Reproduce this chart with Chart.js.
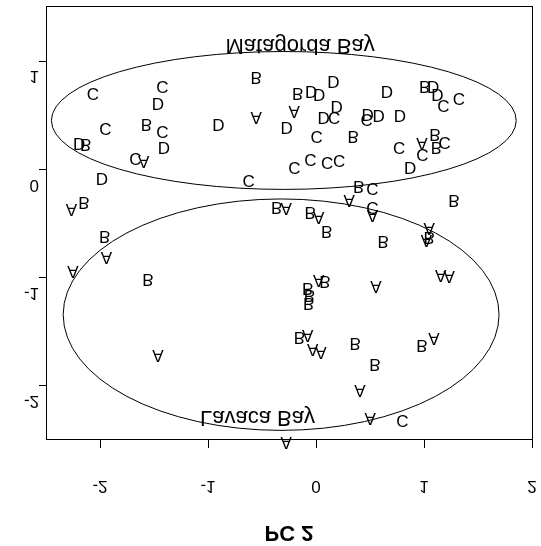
<!DOCTYPE html>
<html><head><meta charset="utf-8">
<script src="https://cdn.jsdelivr.net/npm/chart.js@4"></script>
<style>html,body{margin:0;padding:0;background:#fff;}canvas{display:block;transform:scaleY(-1);}</style>
</head><body>
<canvas id="c" width="541" height="546"></canvas>
<script>
// ---- data ----
const xTickValues = [-2, -1, 0, 1, 2];
const xTickLabels = ['-2', '-1', '0', '1', '2'];
const yTickValues = [-2, -1, 0, 1];
const yTickLabels = ['-2', '-1', '0', '1'];
const xAxisTitle = 'PC 2';

const groupLetters = ['A', 'B', 'C', 'D'];

const aX = [-0.555,-0.201,-1.596,0.980,-2.264,-1.941,-2.250,-0.277,0.024,0.308,0.523,1.047,1.022,1.155,1.232,0.024,0.555,-1.464,-0.078,-0.031,0.046,1.093,0.407,0.502,-0.277];
const aY = [0.477,0.529,0.071,0.231,-0.379,-0.815,-0.948,-0.363,-0.446,-0.293,-0.431,-0.554,-0.662,-0.985,-0.991,-1.031,-1.092,-1.729,-1.539,-1.669,-1.693,-1.570,-2.047,-2.308,-2.524];

const bX = [-0.555,-0.170,1.007,-1.571,-2.132,0.345,1.100,1.115,0.394,-2.148,-1.957,-1.556,-0.364,-0.055,0.098,1.278,0.622,1.047,0.083,-0.078,-0.062,-0.068,-0.154,0.363,0.980,0.545];
const bY = [0.847,0.699,0.764,0.406,0.224,0.302,0.317,0.194,-0.160,-0.314,-0.621,-1.025,-0.354,-0.400,-0.579,-0.293,-0.668,-0.631,-1.041,-1.108,-1.175,-1.247,-1.563,-1.616,-1.637,-1.807];

const cX = [-2.065,-1.423,1.179,1.324,-1.950,-1.423,0.169,0.468,-1.673,0.006,0.770,1.192,0.985,-0.201,-0.053,0.102,0.215,-0.623,0.523,0.523,0.800];
const cY = [0.693,0.764,0.584,0.653,0.376,0.348,0.477,0.455,0.099,0.302,0.200,0.240,0.132,0.016,0.086,0.062,0.077,-0.108,-0.185,-0.360,-2.324];

const dX = [-1.464,-0.046,0.030,0.160,0.656,1.084,1.124,-0.903,-0.272,0.070,0.190,0.477,0.579,0.776,-2.194,-1.409,0.872,-1.982];
const dY = [0.607,0.717,0.686,0.810,0.717,0.764,0.686,0.406,0.385,0.477,0.579,0.501,0.492,0.492,0.231,0.194,0.016,-0.092];

const regionNames = ['Matagorda Bay', 'Lavaca Bay'];
const regionCenterX = [-0.298, -0.323];
const regionCenterY = [0.452, -1.342];
const regionRadiusX = [2.152, 2.018];
const regionRadiusY = [0.637, 1.069];
const regionLabelX = [-0.147, -0.542];
const regionLabelY = [1.200, -2.232];

// ---- chart ----
const FONT = '"Liberation Sans", Arial, Helvetica, sans-serif';
const LETTER_SIZE = 17;
const groupsX = [aX, bX, cX, dX];
const groupsY = [aY, bY, cY, dY];

const datasets = groupLetters.map((L, g) => ({
  label: L,
  data: groupsX[g].map((x, i) => ({ x: x, y: groupsY[g][i] })),
  pointRadius: 0,
  pointHoverRadius: 0,
  showLine: false
}));

const overlay = {
  id: 'overlay',
  afterDatasetsDraw(chart) {
    const ctx = chart.ctx, xs = chart.scales.x, ys = chart.scales.y, a = chart.chartArea;
    ctx.save();
    ctx.strokeStyle = '#000';
    ctx.lineWidth = 1;
    ctx.strokeRect(Math.round(a.left) + 0.5, Math.round(a.top) + 0.5,
                   Math.round(a.right - a.left), Math.round(a.bottom - a.top));
    regionNames.forEach((name, k) => {
      const cx = xs.getPixelForValue(regionCenterX[k]);
      const cy = ys.getPixelForValue(regionCenterY[k]);
      const rx = Math.abs(xs.getPixelForValue(regionCenterX[k] + regionRadiusX[k]) - cx);
      const ry = Math.abs(ys.getPixelForValue(regionCenterY[k] + regionRadiusY[k]) - cy);
      ctx.beginPath();
      ctx.ellipse(cx, cy, rx, ry, 0, 0, Math.PI * 2);
      ctx.stroke();
    });
    ctx.fillStyle = '#000';
    ctx.textAlign = 'center';
    ctx.textBaseline = 'alphabetic';
    ctx.font = LETTER_SIZE + 'px ' + FONT;
    chart.data.datasets.forEach((ds, i) => {
      const meta = chart.getDatasetMeta(i);
      meta.data.forEach(el => {
        ctx.fillText(ds.label, el.x, el.y + 0.358 * LETTER_SIZE);
      });
    });
    ctx.font = '22px ' + FONT;
    regionNames.forEach((name, k) => {
      ctx.fillText(name, xs.getPixelForValue(regionLabelX[k]), ys.getPixelForValue(regionLabelY[k]));
    });
    ctx.restore();
  }
};

new Chart(document.getElementById('c'), {
  type: 'scatter',
  data: { datasets: datasets },
  options: {
    responsive: false,
    devicePixelRatio: 1,
    animation: false,
    events: [],
    layout: { padding: { left: 0, right: 9, top: 0, bottom: 7 } },
    plugins: { legend: { display: false }, tooltip: { enabled: false } },
    scales: {
      x: {
        type: 'linear', position: 'top', min: -2.5, max: 2,
        afterBuildTicks: s => { s.ticks = xTickValues.map(v => ({ value: v })); },
        afterFit: s => { s.height = 106; s.paddingLeft = 0; s.paddingRight = 0; s.paddingTop = 0; s.paddingBottom = 0; },
        ticks: {
          color: '#000', font: { size: 17, family: FONT }, padding: 27,
          maxRotation: 0, autoSkip: false,
          callback: (v, i) => xTickLabels[i]
        },
        grid: { drawOnChartArea: false, drawTicks: true, tickLength: 8, color: '#000', tickWidth: 1 },
        border: { display: false },
        title: { display: true, text: xAxisTitle, color: '#000',
                 font: { size: 22, weight: 'bold', family: FONT }, padding: { top: 1, bottom: 0 } }
      },
      y: {
        type: 'linear', reverse: true, min: -2.5, max: 1.5,
        afterBuildTicks: s => { s.ticks = yTickValues.map(v => ({ value: v })); },
        afterFit: s => { s.width = 46; s.paddingLeft = 0; s.paddingRight = 0; s.paddingTop = 0; s.paddingBottom = 0; },
        ticks: {
          color: '#000', font: { size: 17, family: FONT }, padding: 0, labelOffset: -15,
          autoSkip: false,
          callback: (v, i) => yTickLabels[i]
        },
        grid: { drawOnChartArea: false, drawTicks: true, tickLength: 7, color: '#000', tickWidth: 1 },
        border: { display: false }
      }
    }
  },
  plugins: [overlay]
});
</script>
</body></html>
